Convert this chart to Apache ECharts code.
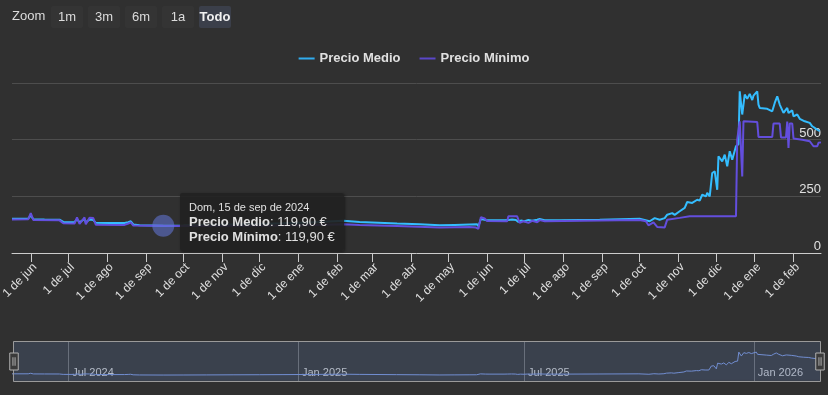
<!DOCTYPE html>
<html><head><meta charset="utf-8">
<script src="https://cdn.jsdelivr.net/npm/echarts@6/dist/echarts.min.js"></script>
<style>html,body{margin:0;padding:0;background:#303030;}#c{width:828px;height:395px;}</style>
</head><body><div id="c"></div>
<script>
// ---------- DATA ----------
const medioDates = ['2024-05-17','2024-05-30','2024-06-01','2024-06-03','2024-06-12','2024-06-24','2024-06-27','2024-07-06','2024-07-08','2024-07-10','2024-07-14','2024-07-15','2024-07-18','2024-07-21','2024-07-23','2024-08-03','2024-08-15','2024-08-18','2024-08-20','2024-08-22','2024-08-27','2024-09-15','2024-10-01','2024-10-20','2024-11-10','2024-12-01','2024-12-20','2025-01-10','2025-01-25','2025-02-06','2025-02-19','2025-03-21','2025-04-08','2025-04-24','2025-05-06','2025-05-18','2025-05-24','2025-05-25','2025-05-27','2025-05-31','2025-06-03','2025-06-15','2025-06-18','2025-06-21','2025-06-24','2025-06-26','2025-06-28','2025-07-01','2025-07-04','2025-07-07','2025-07-11','2025-07-13','2025-07-17','2025-07-29','2025-08-30','2025-10-01','2025-10-09','2025-10-13','2025-10-17','2025-10-21','2025-10-23','2025-10-27','2025-10-29','2025-11-02','2025-11-06','2025-11-08','2025-11-12','2025-11-16','2025-11-18','2025-11-20','2025-11-23','2025-11-24','2025-11-26','2025-11-28','2025-11-30','2025-12-02','2025-12-03','2025-12-06','2025-12-08','2025-12-10','2025-12-12','2025-12-14','2025-12-17','2025-12-19','2025-12-20','2025-12-22','2025-12-24','2025-12-26','2025-12-28','2025-12-30','2025-12-31','2026-01-03','2026-01-04','2026-01-05','2026-01-11','2026-01-15','2026-01-17','2026-01-19','2026-01-20','2026-01-21','2026-01-24','2026-01-27','2026-01-28','2026-01-31','2026-02-01','2026-02-04','2026-02-06','2026-02-10','2026-02-14','2026-02-16','2026-02-20','2026-02-22','2026-02-23'];
const medioValues = [151,152,166,149,148,147,137,136,150,135,150,135,148,145,133,132,132,136,140,126,122,119.9,121,123,126,128,131,135,139,142,137,130,127,122,124,126,127,118,150,145,144,144,146,148,146,137,143,140,146,142,147,150,145,144,147,151,140,154,147,154,169,176,168,184,199,225,221,235,231,257,250,265,250,353,360,279,427,404,434,382,449,412,471,480,713,611,699,680,702,675,694,713,655,640,636,625,662,691,699,655,618,640,618,629,603,611,592,581,574,559,544,537,544];

const minimoDates = ['2024-05-17','2024-05-30','2024-06-01','2024-06-03','2024-06-24','2024-06-27','2024-07-06','2024-07-08','2024-07-10','2024-07-14','2024-07-15','2024-07-18','2024-07-21','2024-07-23','2024-08-15','2024-08-18','2024-08-20','2024-08-22','2024-09-15','2024-10-15','2024-11-15','2024-12-15','2025-01-15','2025-02-06','2025-02-19','2025-03-21','2025-04-24','2025-05-18','2025-05-23','2025-05-25','2025-05-27','2025-05-30','2025-06-01','2025-06-17','2025-06-18','2025-06-25','2025-06-27','2025-06-30','2025-07-04','2025-07-07','2025-07-11','2025-07-13','2025-07-17','2025-08-30','2025-10-01','2025-10-06','2025-10-08','2025-10-12','2025-10-15','2025-10-21','2025-10-23','2025-11-02','2025-11-10','2025-12-17','2025-12-18','2025-12-20','2025-12-22','2025-12-23','2026-01-03','2026-01-04','2026-01-15','2026-01-16','2026-01-21','2026-01-22','2026-01-26','2026-01-27','2026-01-28','2026-01-29','2026-01-31','2026-02-01','2026-02-08','2026-02-14','2026-02-17','2026-02-20','2026-02-21','2026-02-23'];
const minimoValues = [148,149,176,146,144,131,130,157,128,157,127,156,154,125,124,130,135,121,119.9,119,120,121,123,127,124,119,113,115,112,107,158,152,141,140,162,162,133,140,133,142,136,145,140,143,146,140,122,135,115,113,147,155,162,162,500,581,338,581,578,512,512,571,571,510,510,580,463,571,571,505,500,493,471,471,486,488];

const monthTicks = ['2024-06-01','2024-07-01','2024-08-01','2024-09-01','2024-10-01','2024-11-01','2024-12-01','2025-01-01','2025-02-01','2025-03-01','2025-04-01','2025-05-01','2025-06-01','2025-07-01','2025-08-01','2025-09-01','2025-10-01','2025-11-01','2025-12-01','2026-01-01','2026-02-01'];
const monthNamesEs = ['ene','feb','mar','abr','may','jun','jul','ago','sep','oct','nov','dic'];
const navTicks = ['2024-07-01','2025-01-01','2025-07-01','2026-01-01'];
const monthNamesEn = ['Jan','Feb','Mar','Apr','May','Jun','Jul','Aug','Sep','Oct','Nov','Dec'];
const dayNamesEs = ['Dom','Lun','Mar','Mié','Jue','Vie','Sáb'];
const rangeButtons = ['1m','3m','6m','1a','Todo'];
const selectedButton = 'Todo';
const seriesNames = ['Precio Medio','Precio Mínimo'];
const yMin = 0, yMax = 750, yStep = 250;
const tipDate = '2024-09-15';

// ---------- HELPERS ----------
const ts = s => { const p = s.split('-').map(Number); return new Date(p[0], p[1]-1, p[2]).getTime(); };
const pairs = (d, v) => d.map((s, i) => [ts(s), v[i]]);
const medioData = pairs(medioDates, medioValues);
const minimoData = pairs(minimoDates, minimoValues);
const xMin = ts(medioDates[0]);
const xMax = ts(medioDates[medioDates.length - 1]);
const tipIndex = minimoDates.indexOf(tipDate);
const tipValue = minimoValues[tipIndex];
const fmtEuro = v => v.toFixed(2).replace('.', ',') + ' €';

const FONT = '"Liberation Sans", Arial, sans-serif';
const C_MEDIO = '#30acee';
const C_MIN = '#5a47c9';
const TXT = '#e0e0e0';

// range selector graphics
const btnEls = [{type:'text', left: 12, top: 10, style:{text:'Zoom', fill:'#dcdcdc', fontSize:13, fontFamily:FONT}}];
rangeButtons.forEach((b, i) => {
  const sel = b === selectedButton;
  const x = 51 + i * 37;
  btnEls.push({type:'rect', shape:{x:x, y:6, width:32, height:22, r:2}, style:{fill: sel ? '#3b3f4a' : '#343434'}});
  btnEls.push({type:'text', style:{text:b, x:x+16, y:17, align:'center', verticalAlign:'middle', fill: sel ? '#f0f0f0' : '#dcdcdc', fontSize:13, fontWeight: sel ? 'bold' : 'normal', fontFamily:FONT}});
});

const chart = echarts.init(document.getElementById('c'));
chart.setOption({
  animation: false,
  backgroundColor: '#303030',
  textStyle: {fontFamily: FONT},
  graphic: {elements: btnEls},
  legend: {
    data: seriesNames, top: 47, left: 'center', icon: 'rect', itemWidth: 16, itemHeight: 2, itemGap: 19,
    textStyle: {color: TXT, fontWeight: 'bold', fontSize: 13, fontFamily: FONT}
  },
  tooltip: {
    trigger: 'axis', alwaysShowContent: true, transitionDuration: 0, showDelay: 0, hideDelay: 100000,
    axisPointer: {type: 'none'},
    backgroundColor: 'rgba(34,34,34,0.92)', borderWidth: 0, padding: [7, 9, 7, 9],
    extraCssText: 'box-shadow:1px 1px 3px rgba(0,0,0,0.45);border-radius:2px;',
    textStyle: {color: TXT, fontFamily: FONT},
    position: function (p) { return [p[0] + 17, p[1] - 33]; },
    formatter: function (params) {
      const ps = params.filter(p => seriesNames.indexOf(p.seriesName) >= 0);
      if (!ps.length) return '';
      const d = new Date(ps[0].value[0]);
      let h = '<div style="font-size:11px;line-height:14px;">' + dayNamesEs[d.getDay()] + ', ' + d.getDate() + ' de ' + monthNamesEs[d.getMonth()] + ' de ' + d.getFullYear() + '</div>';
      ps.forEach(p => { h += '<div style="font-size:13px;line-height:15px;"><b>' + p.seriesName + '</b>: ' + fmtEuro(p.value[1]) + '</div>'; });
      return h;
    }
  },
  grid: [
    {left: 12, right: 7, top: 83, bottom: 142, outerBoundsMode: 'none', containLabel: false},
    {left: 12, right: 8, top: 341, height: 41, outerBoundsMode: 'none', containLabel: false}
  ],
  xAxis: [
    {
      type: 'value', gridIndex: 0, min: xMin, max: xMax, scale: true,
      axisLine: {show: true, lineStyle: {color: '#cccccc', width: 1}},
      axisTick: {show: true, length: 9, customValues: monthTicks.map(ts), lineStyle: {color: '#cccccc'}},
      splitLine: {show: false},
      axisLabel: {
        customValues: monthTicks.map(ts), rotate: 45, margin: 8, verticalAlign: 'top', color: TXT, fontSize: 12, fontFamily: FONT, hideOverlap: false,
        formatter: v => '1 de ' + monthNamesEs[new Date(v).getMonth()]
      }
    },
    {
      type: 'value', gridIndex: 1, min: xMin, max: xMax, scale: true,
      axisLine: {show: false},
      axisTick: {show: false, customValues: navTicks.map(ts)},
      splitLine: {show: true, lineStyle: {color: '#6a6a6a', width: 1}},
      axisLabel: {
        customValues: navTicks.map(ts), inside: true, margin: 4, align: 'left', verticalAlign: 'bottom', padding: [0, 0, 0, 4],
        color: '#c8c8c8', fontSize: 11, fontFamily: FONT, hideOverlap: false,
        formatter: v => { const d = new Date(v); return monthNamesEn[d.getMonth()] + ' ' + d.getFullYear(); }
      },
      axisPointer: {show: false, triggerTooltip: false}
    }
  ],
  yAxis: [
    {
      type: 'value', gridIndex: 0, position: 'right', min: yMin, max: yMax, interval: yStep,
      axisLine: {show: false}, axisTick: {show: false},
      splitLine: {show: true, lineStyle: {color: '#4d4d4d', width: 1}},
      axisLabel: {inside: true, margin: 0, verticalAlign: 'bottom', color: TXT, fontSize: 13, fontFamily: FONT, showMaxLabel: false}
    },
    {
      type: 'value', gridIndex: 1, min: -60, max: 1000,
      axisLine: {show: false}, axisTick: {show: false}, axisLabel: {show: false}, splitLine: {show: false}
    }
  ],
  dataZoom: [{
    type: 'slider', xAxisIndex: 1, left: 12, right: 8, top: 341, height: 41, start: 0, end: 100,
    filterMode: 'none', showDataShadow: false, showDetail: false, brushSelect: false, moveHandleSize: 0,
    backgroundColor: 'rgba(0,0,0,0)', fillerColor: 'rgba(102,133,194,0.2)', borderColor: '#9a9a9a', borderRadius: 0,
    handleIcon: 'path://M0,0 L8,0 L8,16 L0,16 Z M3,4 L3,12 M5,4 L5,12',
    handleSize: 17,
    handleStyle: {color: '#3a3a3a', borderColor: '#b0b0b0', borderWidth: 1},
    emphasis: {handleStyle: {color: '#3a3a3a', borderColor: '#b0b0b0'}}
  }],
  series: [
    {
      name: seriesNames[0], type: 'line', xAxisIndex: 0, yAxisIndex: 0, data: medioData, symbol: 'none',
      lineStyle: {width: 2, color: C_MEDIO}, itemStyle: {color: C_MEDIO}, z: 2
    },
    {
      name: seriesNames[1], type: 'line', xAxisIndex: 0, yAxisIndex: 0, data: minimoData, symbol: 'none',
      lineStyle: {width: 2, color: C_MIN}, itemStyle: {color: C_MIN}, z: 3,
      markPoint: {
        silent: true, symbol: 'circle', symbolSize: 22, label: {show: false},
        itemStyle: {color: 'rgba(100,120,220,0.55)'},
        data: [{coord: [ts(tipDate), tipValue]}]
      }
    },
    {
      name: 'nav', type: 'line', xAxisIndex: 1, yAxisIndex: 1, data: medioData, symbol: 'none', silent: true,
      lineStyle: {width: 1, color: '#7590d6'}, areaStyle: {color: 'rgba(102,133,194,0.08)'}
    }
  ]
});
chart.dispatchAction({type: 'showTip', seriesIndex: 1, dataIndex: tipIndex});
</script>
</body></html>
